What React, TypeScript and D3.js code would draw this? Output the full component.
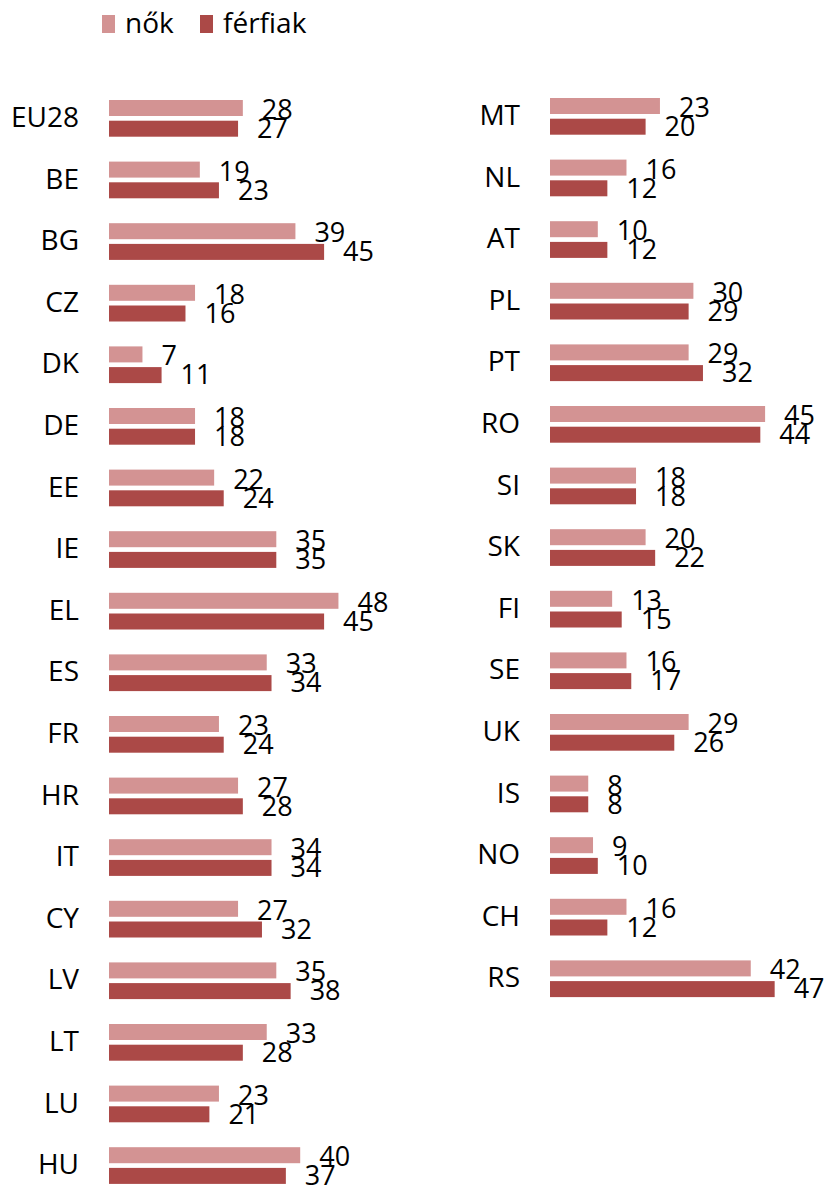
import React from "react";
import * as d3 from "d3";

const leftCats = ["EU28","BE","BG","CZ","DK","DE","EE","IE","EL","ES","FR","HR","IT","CY","LV","LT","LU","HU"];
const leftWomen = [28,19,39,18,7,18,22,35,48,33,23,27,34,27,35,33,23,40];
const leftMen =   [27,23,45,16,11,18,24,35,45,34,24,28,34,32,38,28,21,37];

const rightCats = ["MT","NL","AT","PL","PT","RO","SI","SK","FI","SE","UK","IS","NO","CH","RS"];
const rightWomen = [23,16,10,30,29,45,18,20,13,16,29,8,9,16,42];
const rightMen =   [20,12,12,29,32,44,18,22,15,17,26,8,10,12,47];

const seriesNames = ["nők", "férfiak"];
const colors = ["#D39393", "#AB4947"];

const W = 830, H = 1187;
const FONT = "'Open Sans', 'Noto Sans', sans-serif";
const FS = 27;
const PITCH = 61.6;
const BAR_H = 16;
const GAP = 4.7;

function Panel({ cats, women, men, x0, top, labelRight }: any) {
  const x = d3.scaleLinear().domain([0, 50]).range([x0, x0 + 50 * 4.78]);
  const y = d3.scaleBand<string>().domain(cats).range([top, top + cats.length * PITCH]).padding(0).align(0);
  return (
    <g>
      {cats.map((c: string, i: number) => {
        const t = y(c)!;
        const vals = [women[i], men[i]];
        return (
          <g key={c}>
            <text x={labelRight} y={t + 27} textAnchor="end" fontSize={28} fontFamily={FONT} fill="#000">{c}</text>
            {vals.map((v, k) => {
              const by = t + k * (BAR_H + GAP);
              return (
                <g key={k}>
                  <rect x={x(0)} y={by} width={x(v) - x(0)} height={BAR_H} fill={colors[k]} />
                  <text x={x(v) + 19} y={k === 0 ? t + 19 : t + 38} fontSize={FS} fontFamily={FONT} fill="#000">{v}</text>
                </g>
              );
            })}
          </g>
        );
      })}
    </g>
  );
}

export default function App() {
  const legendX = [102, 200];
  return (
    <svg width={W} height={H} style={{ position: "absolute", left: 0, top: 0, background: "#fff" }}>
      {seriesNames.map((s, i) => (
        <g key={s}>
          <rect x={legendX[i]} y={15} width={13} height={18} fill={colors[i]} />
          <text x={legendX[i] + 23} y={33} fontSize={28} fontFamily={FONT} fill="#000">{s}</text>
        </g>
      ))}
      <Panel cats={leftCats} women={leftWomen} men={leftMen} x0={109} top={100} labelRight={79} />
      <Panel cats={rightCats} women={rightWomen} men={rightMen} x0={550} top={98} labelRight={520} />
    </svg>
  );
}
